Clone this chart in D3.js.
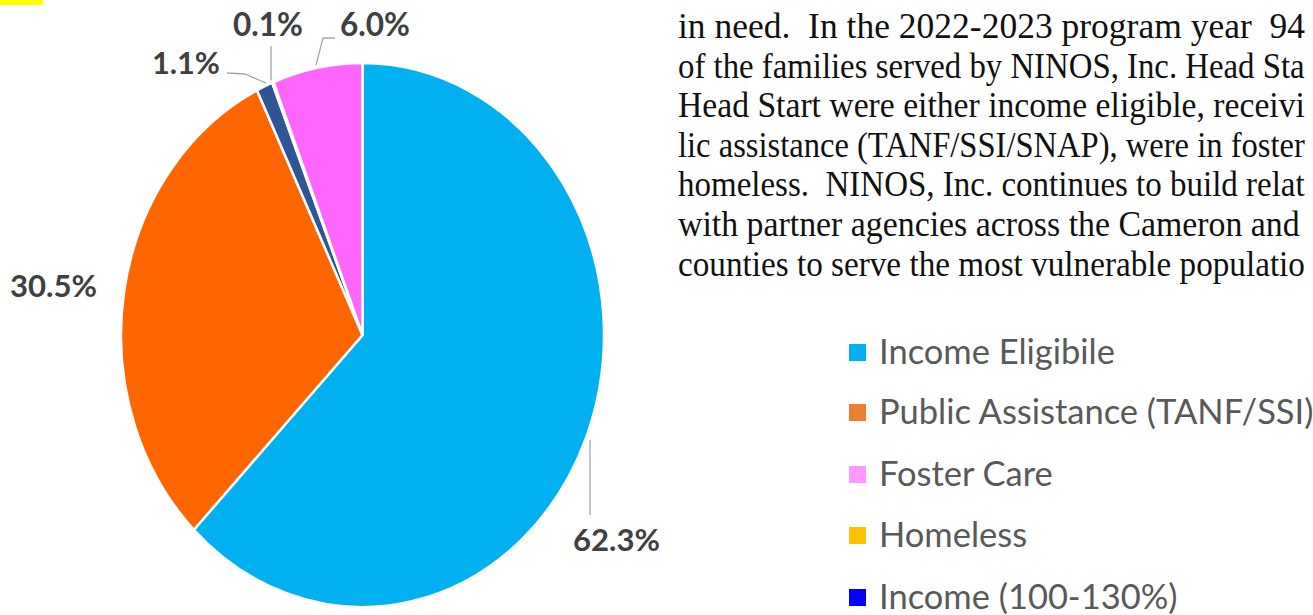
<!DOCTYPE html>
<html>
<head>
<meta charset="utf-8">
<script src="https://cdn.jsdelivr.net/npm/d3@7"></script>
<style>
  html, body { margin: 0; padding: 0; background: #fff; overflow: hidden; }
  svg { display: block; }
</style>
</head>
<body>
<svg id="chart" width="1313" height="615"></svg>
<script>
// ---- data ----
const sliceNames  = ["Income Eligibile", "Public Assistance (TANF/SSI)", "Income (100-130%)", "Homeless", "Foster Care"];
const sliceValues = [62.3, 30.5, 1.1, 0.1, 6.0];
const sliceLabels = ["62.3%", "30.5%", "1.1%", "0.1%", "6.0%"];
const sliceColors = ["#00B0F0", "#FF6600", "#2F5597", "#FFC000", "#FF66FF"];

const legendNames  = ["Income Eligibile", "Public Assistance (TANF/SSI)", "Foster Care", "Homeless", "Income (100-130%)"];
const legendColors = ["#00B0F0", "#ED7D31", "#FF99FF", "#FFC000", "#0000FF"];

// body text as visible in the reference crop
const bodyLines = [
  "in need.  In the 2022-2023 program year  94",
  "of the families served by NINOS, Inc. Head Sta",
  "Head Start were either income eligible, receivi",
  "lic assistance (TANF/SSI/SNAP), were in foster",
  "homeless.  NINOS, Inc. continues to build relat",
  "with partner agencies across the Cameron and",
  "counties to serve the most vulnerable populatio"
];
const bodyLineEnds = [1305, 1305, 1305, 1305, 1305, 1300, 1305];

// ---- layout ----
const svg = d3.select("#chart");

// yellow highlight fragment at top-left
svg.append("rect").attr("x", 0).attr("y", 0).attr("width", 43).attr("height", 5).attr("fill", "#FFFF00");

// pie (slightly elliptical, as in the reference)
const cx = 362.5, cy = 335, rx = 241.5, ry = 272;
const pie = d3.pie().sort(null).value(d => d)(sliceValues);
const arc = d3.arc().innerRadius(0).outerRadius(ry);

const pg = svg.append("g").attr("transform", `translate(${cx},${cy}) scale(${rx/ry},1)`);
pg.selectAll("path").data(pie).join("path")
  .attr("d", arc)
  .attr("fill", (d, i) => sliceColors[i])
  .attr("stroke", "#fff")
  .attr("stroke-width", 2.5)
  .attr("vector-effect", "non-scaling-stroke");

// data labels
const labelPos = [
  { x: 573, y: 551 },
  { x: 10,  y: 297 },
  { x: 152, y: 74 },
  { x: 233, y: 36 },
  { x: 340, y: 36 }
];
const leaders = [
  [[590, 440], [590, 515]],
  null,
  [[227, 73], [245, 74], [266, 83]],
  [[271, 46], [271, 80]],
  [[335, 38], [323, 38], [316, 65]]
];
const lineGen = d3.line();
svg.selectAll("path.leader").data(leaders.filter(d => d)).join("path")
  .attr("class", "leader")
  .attr("d", d => lineGen(d))
  .attr("fill", "none")
  .attr("stroke", "#A6A6A6")
  .attr("stroke-width", 1.3);

const labelWidths = [87, 87, 68, 70, 70];
svg.selectAll("text.dlabel").data(sliceLabels).join("text")
  .attr("class", "dlabel")
  .attr("x", (d, i) => labelPos[i].x)
  .attr("y", (d, i) => labelPos[i].y)
  .attr("font-family", "Lato, 'Open Sans', sans-serif")
  .attr("font-weight", 700)
  .attr("font-size", 32)
  .attr("fill", "#404040")
  .text(d => d)
  .each(function(d, i) {
    const w = this.getComputedTextLength();
    d3.select(this).attr("font-size", 32 * labelWidths[i] / w);
  });

// body text (serif), each line squeezed horizontally to the reference width
const bodyX = 678;
svg.append("g").selectAll("text").data(bodyLines).join("text")
  .attr("x", 0)
  .attr("y", 0)
  .attr("font-family", "'Liberation Serif', 'DejaVu Serif', serif")
  .attr("font-size", 35)
  .attr("fill", "#111")
  .style("white-space", "pre")
  .text(d => d)
  .each(function(d, i) {
    const w = this.getComputedTextLength();
    const k = (bodyLineEnds[i] - bodyX) / w;
    d3.select(this).attr("transform", `translate(${bodyX},${38 + i * 39.6}) scale(${k},1)`);
  });

// legend
const lg = svg.append("g");
const rowY = [353, 413, 475, 536, 598];
lg.selectAll("rect").data(legendNames).join("rect")
  .attr("x", 849).attr("y", (d, i) => rowY[i] - 9)
  .attr("width", 17).attr("height", 17)
  .attr("fill", (d, i) => legendColors[i]);
const lt = lg.selectAll("text").data(legendNames).join("text")
  .attr("x", 879).attr("y", (d, i) => rowY[i] + 11)
  .attr("font-family", "Lato, 'Open Sans', sans-serif")
  .attr("font-size", 30)
  .attr("fill", "#595959")
  .text(d => d);
const lw = lt.nodes()[0].getComputedTextLength();
lt.attr("font-size", 30 * 236 / lw);
</script>
</body>
</html>
